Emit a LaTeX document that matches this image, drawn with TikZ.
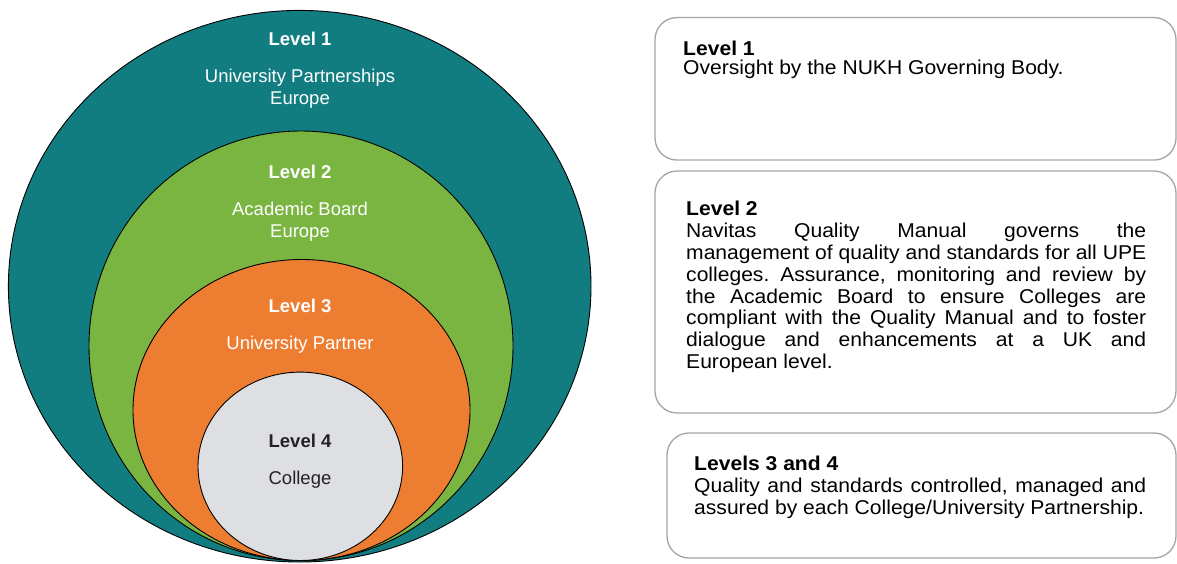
\documentclass[tikz,border=0pt]{standalone}
\usepackage{fontspec}
\setmainfont{Liberation Sans}
\newfontfamily\boxfont[FakeStretch=1.054]{Liberation Sans}
\definecolor{tealL}{RGB}{18,125,128}
\definecolor{greenL}{RGB}{122,181,66}
\definecolor{orangeL}{RGB}{237,125,49}
\definecolor{greyL}{RGB}{221,223,226}
\definecolor{darkT}{RGB}{35,35,35}
\definecolor{boxline}{RGB}{165,165,165}
\frenchspacing
\begin{document}
\begin{tikzpicture}[x=1pt,y=-1pt,
  ring/.style={draw=black, line width=0.9pt},
  ctitle/.style={inner sep=0pt, anchor=base, text=white, font=\fontsize{18.5}{22}\selectfont\bfseries},
  ctext/.style={inner sep=0pt, anchor=base, text=white, font=\fontsize{18.5}{22}\selectfont},
  infobox/.style={draw=boxline, line width=1.3pt, rounded corners=22pt, rectangle, inner sep=0pt},
  btitle/.style={inner sep=0pt, anchor=base west, text=black, font=\boxfont\fontsize{20}{22}\selectfont\bfseries},
  btext/.style={inner sep=0pt, anchor=base west, text=black, font=\boxfont\fontsize{20}{22}\selectfont\frenchspacing}
]
\useasboundingbox (0,0) rectangle (1177,563);
\fill[white] (0,0) rectangle (1177,563);

% nested ellipses
\draw[ring, fill=tealL] (299.7,286.2) ellipse [x radius=291.3, y radius=275.8];
\draw[ring, fill=greenL] (301,345.8) ellipse [x radius=212, y radius=214.8];
\draw[ring, fill=orangeL] (301.5,410) ellipse [x radius=168.5, y radius=150.5];
\draw[ring, fill=greyL] (300.3,466.3) ellipse [x radius=102.3, y radius=94.2];

\node[ctitle] (c1t) at (300,45) {Level 1};
\node[ctext] (c1a) at (300,82) {University Partnerships};
\node[ctext] (c1b) at (300,104) {Europe};
\node[ctitle] (c2t) at (300,178.5) {Level 2};
\node[ctext] (c2a) at (300,215.5) {Academic Board};
\node[ctext] (c2b) at (300,237.7) {Europe};
\node[ctitle] (c3t) at (300,312.4) {Level 3};
\node[ctext] (c3a) at (300,349) {University Partner};
\node[ctitle, text=darkT] (c4t) at (300,447.7) {Level 4};
\node[ctext, text=darkT] (c4a) at (300,484.7) {College};

% boxes
\node[infobox, minimum width=521pt, minimum height=142.5pt] (b1) at (915.5,88.8) {};
\node[infobox, minimum width=521pt, minimum height=242pt] (b2) at (915.5,292) {};
\node[infobox, minimum width=509pt, minimum height=125pt] (b3) at (921.5,495.5) {};

\node[btitle] (b1t) at (683,55.5) {Level 1};
\node[btext] (b1a) at (683,74) {Oversight by the NUKH Governing Body.};

\node[btitle] (b2t) at (686,215) {Level 2};
\node[btext] (b2a) at (686,237) {\makebox[460pt][s]{Navitas Quality Manual governs the}};
\node[btext] (b2b) at (686,259) {\makebox[460pt][s]{management of quality and standards for all UPE}};
\node[btext] (b2c) at (686,281) {\makebox[460pt][s]{colleges. Assurance, monitoring and review by}};
\node[btext] (b2d) at (686,303) {\makebox[460pt][s]{the Academic Board to ensure Colleges are}};
\node[btext] (b2e) at (686,324.8) {\makebox[460pt][s]{compliant with the Quality Manual and to foster}};
\node[btext] (b2f) at (686,346.7) {\makebox[460pt][s]{dialogue and enhancements at a UK and}};
\node[btext] (b2g) at (686,368.6) {European level.};

\node[btitle] (b3t) at (694,470) {Levels 3 and 4};
\node[btext] (b3a) at (694,492) {\makebox[452pt][s]{Quality and standards controlled, managed and}};
\node[btext] (b3b) at (694,514) {assured by each College/University Partnership.};
\end{tikzpicture}
\end{document}
